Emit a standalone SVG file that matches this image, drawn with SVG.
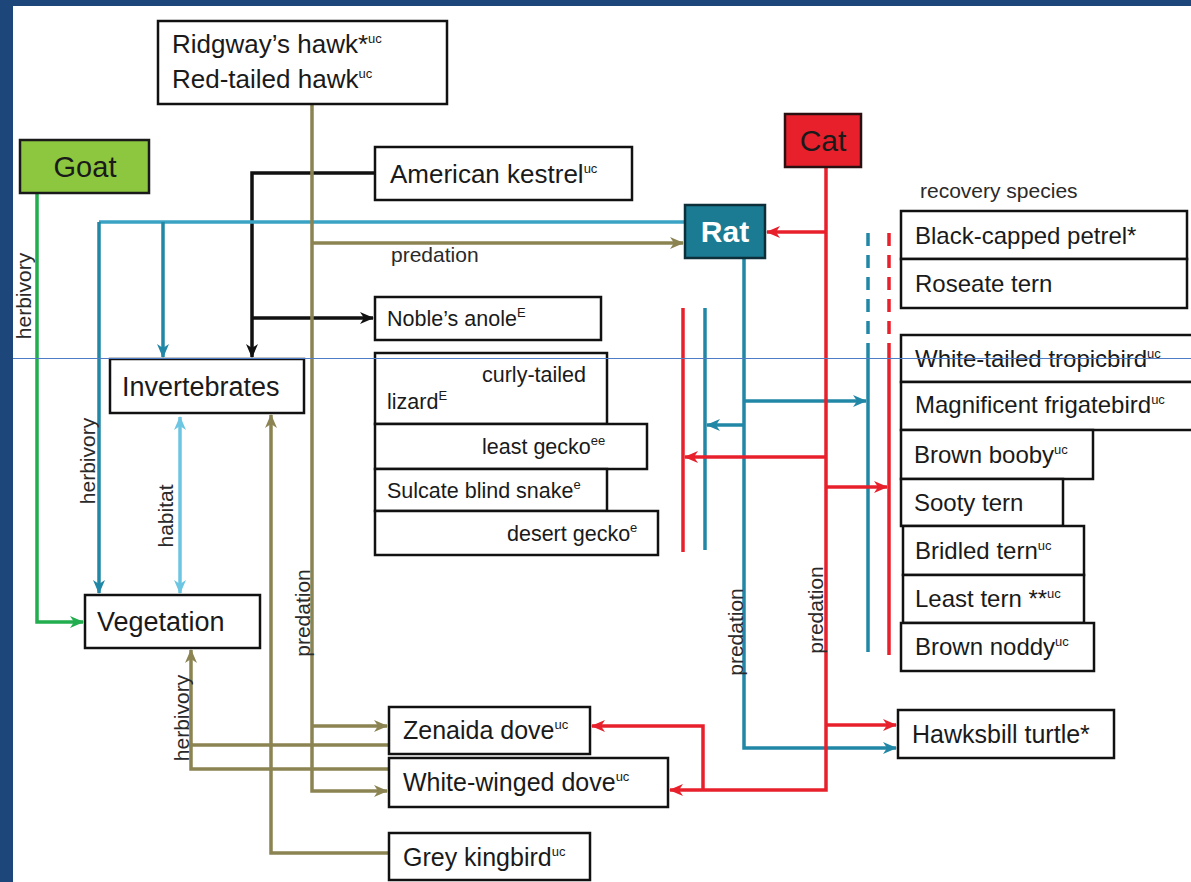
<svg xmlns="http://www.w3.org/2000/svg" width="1191" height="882" viewBox="0 0 1191 882">
<style>
.box{fill:#fff;stroke:#111;stroke-width:2.5}
.t{font-family:"Liberation Sans",Arial,sans-serif;fill:#1a1a1a}
.big{font-size:26px}
.mid{font-size:25px}
.sp{font-size:24px}
.liz{font-size:21.5px}
.lab{font-family:"Liberation Sans",Arial,sans-serif;font-size:21px;fill:#2a2a2a}
.sup{font-size:13px}
.c{fill:none;stroke-width:3.5;stroke-linejoin:miter}
.k{stroke:#111}
.tl{stroke:#2187a6}
.tl2{stroke:#3aa3c4}
.ol{stroke:#8b8452}
.rd{stroke:#e8202c}
.gr{stroke:#22ad4e}
.lb{stroke:#6cc6e2}
.dash{stroke-dasharray:13 9}
</style>
<defs>
<marker id="ak" viewBox="0 0 14 12" refX="13" refY="6" markerWidth="14" markerHeight="12" markerUnits="userSpaceOnUse" orient="auto"><path d="M0,0 L14,6 L0,12 L4,6 Z" fill="#111"/></marker>
<marker id="at" viewBox="0 0 14 12" refX="13" refY="6" markerWidth="14" markerHeight="12" markerUnits="userSpaceOnUse" orient="auto"><path d="M0,0 L14,6 L0,12 L4,6 Z" fill="#2187a6"/></marker>
<marker id="ao" viewBox="0 0 14 12" refX="13" refY="6" markerWidth="14" markerHeight="12" markerUnits="userSpaceOnUse" orient="auto"><path d="M0,0 L14,6 L0,12 L4,6 Z" fill="#8b8452"/></marker>
<marker id="ar" viewBox="0 0 14 12" refX="13" refY="6" markerWidth="14" markerHeight="12" markerUnits="userSpaceOnUse" orient="auto"><path d="M0,0 L14,6 L0,12 L4,6 Z" fill="#e8202c"/></marker>
<marker id="ag" viewBox="0 0 14 12" refX="13" refY="6" markerWidth="14" markerHeight="12" markerUnits="userSpaceOnUse" orient="auto"><path d="M0,0 L14,6 L0,12 L4,6 Z" fill="#22ad4e"/></marker>
<marker id="al" viewBox="0 0 14 12" refX="13" refY="6" markerWidth="14" markerHeight="12" markerUnits="userSpaceOnUse" orient="auto-start-reverse"><path d="M0,0 L14,6 L0,12 L4,6 Z" fill="#6cc6e2"/></marker>
</defs>
<rect x="0" y="0" width="1191" height="882" fill="#1d467a"/>
<rect x="13" y="6" width="1178" height="876" fill="#fff"/>

<g id="connectors">
<path class="c k" d="M375,173 H252 V357" marker-end="url(#ak)"/>
<path class="c k" d="M252,318 H373" marker-end="url(#ak)"/>
<path class="c tl2" d="M685,222 H99"/>
<path class="c tl" d="M99,222 V593" marker-end="url(#at)"/>
<path class="c tl" d="M163,222 V357" marker-end="url(#at)"/>
<path class="c tl" d="M744,258 V748 H896" marker-end="url(#at)"/>
<path class="c tl" d="M744,401 H866" marker-end="url(#at)"/>
<path class="c tl" d="M744,425 H707" marker-end="url(#at)"/>
<path class="c tl" d="M705,308 V550"/>
<path class="c tl dash" d="M868,233 V353"/>
<path class="c tl" d="M868,353 V652"/>
<path class="c rd" d="M826,167 V790 H670" marker-end="url(#ar)"/>
<path class="c rd" d="M826,232 H767" marker-end="url(#ar)"/>
<path class="c rd" d="M826,457 H685" marker-end="url(#ar)"/>
<path class="c rd" d="M826,487 H887" marker-end="url(#ar)"/>
<path class="c rd" d="M826,725 H896" marker-end="url(#ar)"/>
<path class="c rd" d="M703,790 V726 H592" marker-end="url(#ar)"/>
<path class="c rd" d="M683,308 V552"/>
<path class="c rd dash" d="M889,233 V350"/>
<path class="c rd" d="M889,350 V655"/>
<path class="c ol" d="M312,104 V791 H387" marker-end="url(#ao)"/>
<path class="c ol" d="M312,243 H683" marker-end="url(#ao)"/>
<path class="c ol" d="M312,726 H387" marker-end="url(#ao)"/>
<path class="c ol" d="M389,853 H271 V415" marker-end="url(#ao)"/>
<path class="c ol" d="M389,745 H191 V650" marker-end="url(#ao)"/>
<path class="c ol" d="M389,769 H191 V744"/>
<path class="c gr" d="M37,193 V622 H83" marker-end="url(#ag)"/>
<path class="c lb" d="M180,417 V593" marker-start="url(#al)" marker-end="url(#al)"/>
<text class="lab" transform="translate(24,296) rotate(-90)" text-anchor="middle" dy="0.35em">herbivory</text>
<text class="lab" transform="translate(88,461) rotate(-90)" text-anchor="middle" dy="0.35em">herbivory</text>
<text class="lab" transform="translate(166,516) rotate(-90)" text-anchor="middle" dy="0.35em">habitat</text>
<text class="lab" transform="translate(303,613) rotate(-90)" text-anchor="middle" dy="0.35em">predation</text>
<text class="lab" transform="translate(182,718) rotate(-90)" text-anchor="middle" dy="0.35em">herbivory</text>
<text class="lab" transform="translate(736,632) rotate(-90)" text-anchor="middle" dy="0.35em">predation</text>
<text class="lab" transform="translate(816,610) rotate(-90)" text-anchor="middle" dy="0.35em">predation</text>
<text class="lab" x="391" y="262">predation</text>
<text class="lab" x="920" y="198">recovery species</text>
</g>

<g id="hawks">
<rect class="box" x="158" y="21" width="289" height="83"/>
<text class="t big" x="172" y="53">Ridgway’s hawk*<tspan class="sup" dy="-10">uc</tspan></text>
<text class="t big" x="172" y="88">Red-tailed hawk<tspan class="sup" dy="-10">uc</tspan></text>
</g>
<g id="goat">
<rect x="20" y="140" width="129" height="53" fill="#8dc63f" stroke="#1a1a1a" stroke-width="2.5"/>
<text class="t" x="85" y="177" font-size="29" text-anchor="middle">Goat</text>
</g>
<g id="kestrel">
<rect class="box" x="375" y="147" width="257" height="53"/>
<text class="t big" x="390" y="183">American kestrel<tspan class="sup" dy="-10">uc</tspan></text>
</g>
<g id="cat">
<rect x="785" y="114" width="76" height="53" fill="#e8202c" stroke="#2a1010" stroke-width="2.5"/>
<text class="t" x="823" y="151" font-size="30" text-anchor="middle">Cat</text>
</g>
<g id="rat">
<rect x="685" y="205" width="80" height="53" fill="#1b7b93" stroke="#0c2f3a" stroke-width="2.5"/>
<text x="725" y="242" font-family="Liberation Sans, Arial, sans-serif" font-size="30" font-weight="bold" fill="#fff" text-anchor="middle">Rat</text>
</g>
<g id="invertebrates">
<rect class="box" x="110" y="359" width="194" height="54"/>
<text class="t" x="122" y="396" font-size="27">Invertebrates</text>
</g>
<g id="vegetation">
<rect class="box" x="85" y="595" width="175" height="53"/>
<text class="t" x="97" y="631" font-size="27">Vegetation</text>
</g>
<g id="nobles-anole">
<rect class="box" x="375" y="297" width="226" height="43"/>
<text class="t liz" x="387" y="326">Noble’s anole<tspan class="sup" font-size="10" dy="-9">E</tspan></text>
</g>
<g id="curly-tailed-lizard">
<rect class="box" x="375" y="353" width="232" height="71"/>
<text class="t liz" x="482" y="382">curly-tailed</text>
<text class="t liz" x="387" y="409">lizard<tspan class="sup" font-size="10" dy="-9">E</tspan></text>
</g>
<g id="least-gecko">
<rect class="box" x="375" y="424" width="272" height="45"/>
<text class="t liz" x="482" y="454">least gecko<tspan class="sup" font-size="10" dy="-9">ee</tspan></text>
</g>
<g id="sulcate-blind-snake">
<rect class="box" x="375" y="469" width="232" height="42"/>
<text class="t liz" x="387" y="498">Sulcate blind snake<tspan class="sup" font-size="10" dy="-9">e</tspan></text>
</g>
<g id="desert-gecko">
<rect class="box" x="375" y="511" width="283" height="44"/>
<text class="t liz" x="507" y="541">desert gecko<tspan class="sup" font-size="10" dy="-9">e</tspan></text>
</g>
<g id="black-capped-petrel">
<rect class="box" x="901" y="211" width="286" height="48"/>
<text class="t sp" x="915" y="244">Black-capped petrel*</text>
</g>
<g id="roseate-tern">
<rect class="box" x="901" y="259" width="286" height="49"/>
<text class="t sp" x="915" y="292">Roseate tern</text>
</g>
<g id="white-tailed-tropicbird">
<rect class="box" x="901" y="335" width="296" height="47"/>
<text class="t sp" x="915" y="367">White-tailed tropicbird<tspan class="sup" dy="-9">uc</tspan></text>
</g>
<g id="magnificent-frigatebird">
<rect class="box" x="901" y="382" width="296" height="48"/>
<text class="t sp" x="915" y="413">Magnificent frigatebird<tspan class="sup" dy="-9">uc</tspan></text>
</g>
<g id="brown-booby">
<rect class="box" x="901" y="430" width="192" height="49"/>
<text class="t sp" x="914" y="463">Brown booby<tspan class="sup" dy="-9">uc</tspan></text>
</g>
<g id="sooty-tern">
<rect class="box" x="901" y="479" width="162" height="47"/>
<text class="t sp" x="914" y="511">Sooty tern</text>
</g>
<g id="bridled-tern">
<rect class="box" x="903" y="526" width="181" height="49"/>
<text class="t sp" x="915" y="559">Bridled tern<tspan class="sup" dy="-9">uc</tspan></text>
</g>
<g id="least-tern">
<rect class="box" x="903" y="575" width="181" height="48"/>
<text class="t sp" x="915" y="607">Least tern **<tspan class="sup" dy="-9">uc</tspan></text>
</g>
<g id="brown-noddy">
<rect class="box" x="901" y="623" width="193" height="48"/>
<text class="t sp" x="915" y="655">Brown noddy<tspan class="sup" dy="-9">uc</tspan></text>
</g>
<g id="hawksbill-turtle">
<rect class="box" x="898" y="710" width="216" height="48"/>
<text class="t mid" x="912" y="743">Hawksbill turtle*</text>
</g>
<g id="zenaida-dove">
<rect class="box" x="389" y="707" width="201" height="47"/>
<text class="t mid" x="403" y="739">Zenaida dove<tspan class="sup" dy="-10">uc</tspan></text>
</g>
<g id="white-winged-dove">
<rect class="box" x="389" y="758" width="279" height="49"/>
<text class="t mid" x="403" y="791">White-winged dove<tspan class="sup" dy="-10">uc</tspan></text>
</g>
<g id="grey-kingbird">
<rect class="box" x="389" y="833" width="201" height="47"/>
<text class="t mid" x="403" y="866">Grey kingbird<tspan class="sup" dy="-10">uc</tspan></text>
</g>
<line x1="13" y1="358.5" x2="1191" y2="358.5" stroke="#4f7cc4" stroke-width="1"/>
</svg>
